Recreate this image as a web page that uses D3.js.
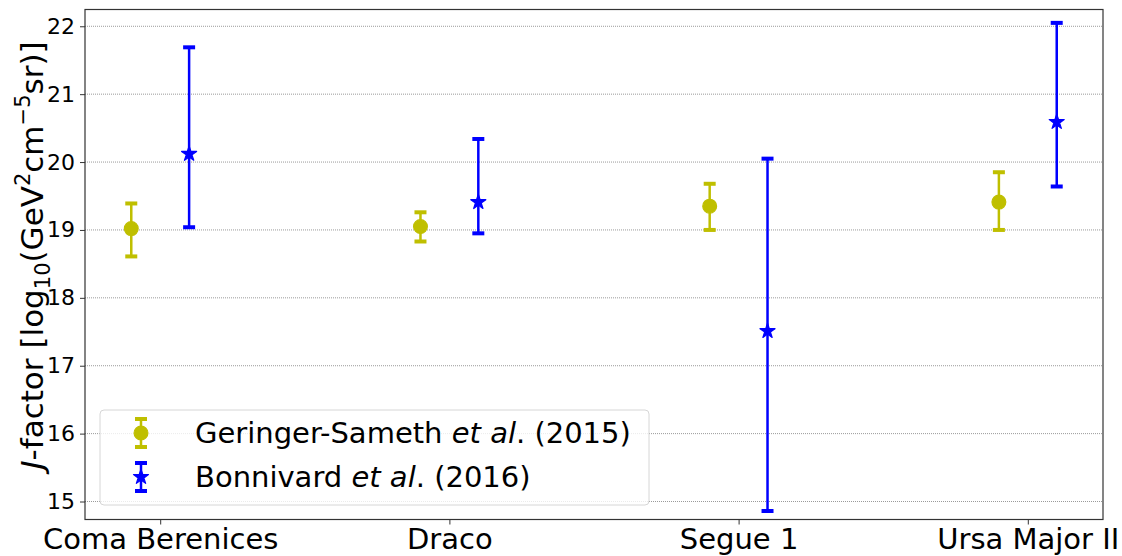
<!DOCTYPE html>
<html>
<head>
<meta charset="utf-8">
<script src="https://cdn.jsdelivr.net/npm/d3@7"></script>
<style>
  body { margin: 0; background: #fff; }
  text { font-family: "DejaVu Sans", sans-serif; fill: #000; }
</style>
</head>
<body>
<svg id="chart" width="1122" height="556"></svg>
<script>
// galaxies on the x axis
var galaxies = ["Coma Berenices", "Draco", "Segue 1", "Ursa Major II"];

// Geringer-Sameth et al. (2015)
var gsValue = [19.02, 19.05, 19.35, 19.41];
var gsLow   = [18.61, 18.83, 19.00, 19.00];
var gsHigh  = [19.39, 19.26, 19.68, 19.85];

// Bonnivard et al. (2016)
var bnValue = [20.12, 19.41, 17.51, 20.59];
var bnLow   = [19.04, 18.95, 14.86, 19.64];
var bnHigh  = [21.69, 20.34, 20.05, 22.05];

var yTicks = [15, 16, 17, 18, 19, 20, 21, 22];

var svg = d3.select("#chart");
var plotLeft = 85, plotRight = 1103, plotTop = 9.5, plotBottom = 519.5;

var x = d3.scaleLinear().domain([-0.26, 3.26]).range([plotLeft, plotRight]);
var y = d3.scaleLinear().domain([14.735, 22.247]).range([plotBottom, plotTop]);

// grid lines
svg.append("g").selectAll("line")
    .data(yTicks)
  .enter().append("line")
    .attr("x1", plotLeft).attr("x2", plotRight)
    .attr("y1", function(d) { return y(d); })
    .attr("y2", function(d) { return y(d); })
    .attr("stroke", "#9a9a9a")
    .attr("stroke-width", 1)
    .attr("stroke-dasharray", "1,1");

// axes
var yAxis = d3.axisLeft(y).tickValues(yTicks).tickSize(5).tickPadding(5);
var gy = svg.append("g").attr("transform", "translate(" + plotLeft + ",0)").call(yAxis);
gy.select(".domain").remove();
gy.selectAll("text").style("font-size", "22px");
gy.selectAll("line").attr("stroke", "#333");

var xAxis = d3.axisBottom(x).tickValues([0, 1, 2, 3])
    .tickFormat(function(d) { return galaxies[d]; }).tickSize(5).tickPadding(4);
var gx = svg.append("g").attr("transform", "translate(0," + plotBottom + ")").call(xAxis);
gx.select(".domain").remove();
gx.selectAll("text").style("font-size", "29px");
gx.selectAll("line").attr("stroke", "#333");

svg.append("rect")
    .attr("x", plotLeft).attr("y", plotTop)
    .attr("width", plotRight - plotLeft).attr("height", plotBottom - plotTop)
    .attr("fill", "none").attr("stroke", "#333").attr("stroke-width", 1.2);

// draws error bars for one series
function draw_series(values, lows, highs, offset, color, marker) {
  var g = svg.append("g");
  galaxies.forEach(function(name, i) {
    var cx = x(i + offset);
    g.append("line")
        .attr("x1", cx).attr("x2", cx)
        .attr("y1", y(lows[i])).attr("y2", y(highs[i]))
        .attr("stroke", color).attr("stroke-width", 2.5);
    [lows[i], highs[i]].forEach(function(v) {
      g.append("line")
          .attr("x1", cx - 6).attr("x2", cx + 6)
          .attr("y1", y(v)).attr("y2", y(v))
          .attr("stroke", color).attr("stroke-width", 4);
    });
    g.append("path")
        .attr("d", marker)
        .attr("transform", "translate(" + cx + "," + y(values[i]) + ")")
        .attr("fill", color)
        .attr("stroke", color).attr("stroke-width", 1.2)
        .attr("stroke-linejoin", "round");
  });
}

var circle = d3.symbol().type(d3.symbolCircle).size(150)();
var star = d3.symbol().type(d3.symbolStar).size(70)();

draw_series(gsValue, gsLow, gsHigh, -0.1, "#bfbf00", circle);
draw_series(bnValue, bnLow, bnHigh, 0.1, "#0000ff", star);

// legend
var legend = svg.append("g");
legend.append("rect")
    .attr("x", 100).attr("y", 410).attr("width", 549).attr("height", 95)
    .attr("rx", 4).attr("fill", "#fff").attr("fill-opacity", 0.8)
    .attr("stroke", "#d6d6d6").attr("stroke-width", 1);

var entries = [
  {color: "#bfbf00", marker: circle, yy: 433, name: "Geringer-Sameth ", year: ". (2015)"},
  {color: "#0000ff", marker: star, yy: 477, name: "Bonnivard ", year: ". (2016)"}
];
entries.forEach(function(e) {
  legend.append("line")
      .attr("x1", 141).attr("x2", 141).attr("y1", e.yy - 14).attr("y2", e.yy + 14)
      .attr("stroke", e.color).attr("stroke-width", 2.5);
  [e.yy - 14, e.yy + 14].forEach(function(v) {
    legend.append("line")
        .attr("x1", 135).attr("x2", 147).attr("y1", v).attr("y2", v)
        .attr("stroke", e.color).attr("stroke-width", 4);
  });
  legend.append("path").attr("d", e.marker)
      .attr("transform", "translate(141," + e.yy + ")").attr("fill", e.color)
      .attr("stroke", e.color).attr("stroke-width", 1.2).attr("stroke-linejoin", "round");
  var t = legend.append("text")
      .attr("x", 195).attr("y", e.yy).attr("dy", "0.36em")
      .style("font-size", "29px");
  t.append("tspan").text(e.name);
  t.append("tspan").style("font-style", "italic").text("et al");
  t.append("tspan").text(e.year);
});

// y axis label
var label = svg.append("text")
    .attr("transform", "translate(43," + ((plotTop + plotBottom) / 2 - 9) + ") rotate(-90)")
    .attr("text-anchor", "middle")
    .style("font-size", "31px");
label.append("tspan").style("font-style", "italic").text("J");
label.append("tspan").text("-factor [log");
label.append("tspan").attr("dy", 7).style("font-size", "21px").text("10");
label.append("tspan").attr("dy", -7).text("(GeV");
label.append("tspan").attr("dy", -13).style("font-size", "21px").text("2");
label.append("tspan").attr("dy", 13).text("cm");
label.append("tspan").attr("dy", -13).style("font-size", "21px").text("\u22125");
label.append("tspan").attr("dy", 13).text("sr)]");
</script>
</body>
</html>
